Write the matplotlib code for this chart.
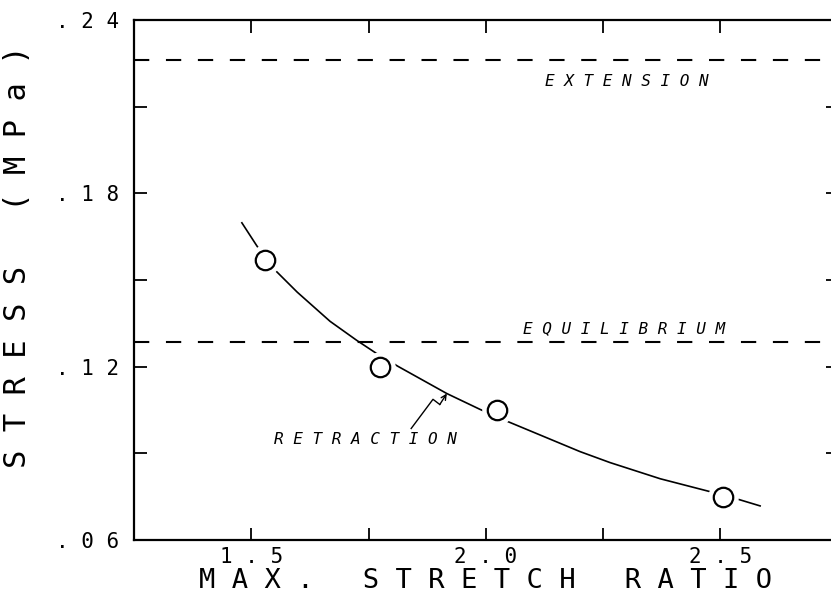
#!/usr/bin/env python3
"""
Stress vs. maximum stretch ratio, with extension / equilibrium reference levels.
"""

import matplotlib
matplotlib.use("Agg")
import matplotlib.pyplot as plt
from matplotlib.ticker import MultipleLocator, FixedLocator, FixedFormatter

plt.rcParams["lines.scale_dashes"] = False

MONO = "DejaVu Sans Mono"

# measured retraction points
stretch = [1.53, 1.775, 2.025, 2.505]
stress = [0.157, 0.120, 0.105, 0.075]

# hand-drawn retraction curve
curve_x = [1.480, 1.512, 1.546, 1.598, 1.668, 1.725, 1.764, 1.813, 1.917,
           1.988, 2.047, 2.201, 2.265, 2.372, 2.472, 2.536, 2.585]
curve_y = [0.1698, 0.1618, 0.1542, 0.1458, 0.1357, 0.1291, 0.1249, 0.1201,
           0.1107, 0.1052, 0.1010, 0.0906, 0.0868, 0.0812, 0.0770, 0.0742,
           0.0718]

extension_level = 0.226
equilibrium_level = 0.1285

x_ticks = [1.5, 2.0, 2.5]
x_ticklabels = ["1 . 5", "2 . 0", "2 . 5"]
y_ticks = [0.06, 0.12, 0.18, 0.24]
y_ticklabels = [". 0 6", ". 1 2", ". 1 8", ". 2 4"]


def spaced(s):
    return " ".join(s)


fig = plt.figure(figsize=(8.31, 5.96), dpi=100)
ax = fig.add_axes([134 / 831, 56 / 596, 703.5 / 831, 520 / 596])

ax.set_xlim(1.25, 2.75)
ax.set_ylim(0.06, 0.24)

# reference levels
dash = (0, (11, 12))
ax.axhline(extension_level, color="black", lw=1.5, ls=dash)
ax.axhline(equilibrium_level, color="black", lw=1.5, ls=dash)

ax.plot(curve_x, curve_y, color="black", lw=1.2, zorder=2)
# white halo so the curve breaks around each point
ax.plot(stretch, stress, "o", ms=21, mfc="white", mec="white", zorder=3)
ax.plot(stretch, stress, "o", ms=14, mfc="white", mec="black", mew=1.6,
        zorder=4)

ax.text(2.30, 0.2188, spaced("EXTENSION"), family=MONO, style="italic",
        fontsize=11.5, ha="center", va="center")
ax.text(2.295, 0.1333, spaced("EQUILIBRIUM"), family=MONO, style="italic",
        fontsize=11.5, ha="center", va="center")
ax.text(1.743, 0.0947, spaced("RETRACTION"), family=MONO, style="italic",
        fontsize=11.5, ha="center", va="center")

# squiggly leader from the RETRACTION label up to the curve
ax.plot([1.841, 1.8875, 1.902], [0.0986, 0.1087, 0.1069], color="black",
        lw=1.0)
ax.annotate("", xy=(1.917, 0.1107), xytext=(1.902, 0.1069),
            arrowprops=dict(arrowstyle="->", lw=1.0, color="black",
                            shrinkA=0, shrinkB=0, mutation_scale=9))

# ticks: inward on all four sides
ax.xaxis.set_major_locator(FixedLocator(x_ticks))
ax.xaxis.set_major_formatter(FixedFormatter(x_ticklabels))
ax.xaxis.set_minor_locator(MultipleLocator(0.25))
ax.yaxis.set_major_locator(FixedLocator(y_ticks))
ax.yaxis.set_major_formatter(FixedFormatter(y_ticklabels))
ax.yaxis.set_minor_locator(MultipleLocator(0.03))
ax.tick_params(which="both", direction="in", top=True, right=True,
               length=9, width=1.3, labelsize=15)
ax.tick_params(axis="x", pad=5)
ax.tick_params(axis="y", pad=11)
for lbl in ax.get_xticklabels() + ax.get_yticklabels():
    lbl.set_family(MONO)

for sp in ax.spines.values():
    sp.set_linewidth(1.6)

ax.set_xlabel("M A X .   S T R E T C H   R A T I O", family=MONO,
              fontsize=19.5, labelpad=1)
ax.set_ylabel("S T R E S S   ( M P a )", family=MONO, fontsize=22)
ax.yaxis.set_label_coords(-0.145, 0.545)

fig.savefig("out.png", dpi=100)
